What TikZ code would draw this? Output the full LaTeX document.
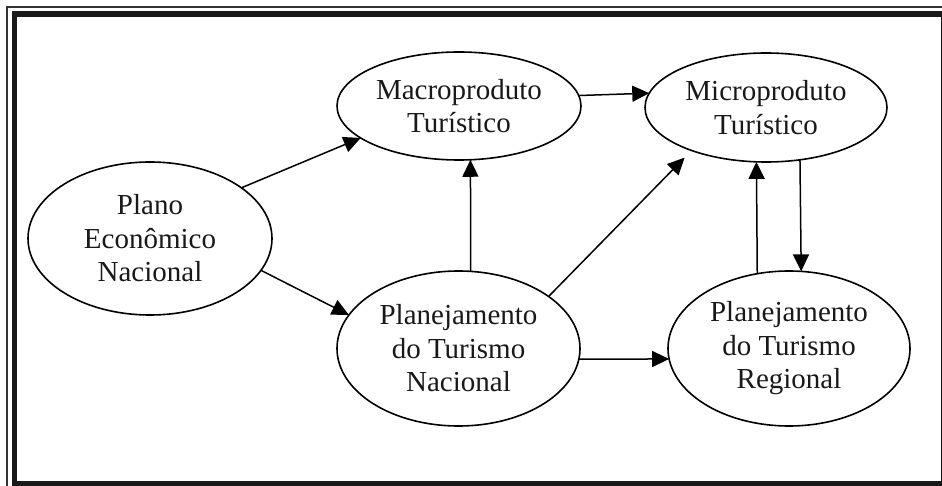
\documentclass[tikz,border=0pt]{standalone}
\usepackage{fontspec}
\setmainfont{Liberation Serif}
\usetikzlibrary{shapes.geometric,arrows.meta}
\begin{document}
\begin{tikzpicture}[x=1pt,y=-1pt,
  oval/.style={draw, ellipse, line width=1.6pt, inner sep=0pt, outer sep=0pt,
    align=center, font=\fontsize{29}{33.5}\selectfont, text=black!90},
  conn/.style={line width=1.5pt, -{Triangle[length=17pt,width=16pt]}}]
\useasboundingbox (0,0) rectangle (942,486);
\clip (0,0) rectangle (942,486);
\fill[white] (0,0) rectangle (942,486);
% frame
\draw[line width=1.4pt, black!80] (7,490) -- (7,7) -- (950,7);
\draw[line width=5.5pt, black!90] (14.5,14) rectangle (944,483.5);
% nodes
\node[oval, minimum width=244pt, minimum height=108pt] (macro) at (459,106) {Macroproduto\\Turístico};
\node[oval, minimum width=242pt, minimum height=109pt] (micro) at (766,107.5) {Microproduto\\Turístico};
\node[oval, minimum width=244pt, minimum height=153pt] (plano) at (150,238.5) {Plano\\Econômico\\Nacional};
\node[oval, minimum width=243pt, minimum height=155pt] (pnac) at (458.5,348.5) {Planejamento\\do Turismo\\Nacional};
\node[oval, minimum width=242pt, minimum height=155pt] (preg) at (789,348.5) {Planejamento\\do Turismo\\Regional};
% connectors
\draw[conn] (plano.29) -- (macro.198.6);
\draw[conn] (plano.-16) -- (pnac.163.7);
\draw[conn] (pnac.81.5) -- (macro.-78.4);
\draw[conn] (macro.5.3) -- (micro.173.7);
\draw[conn, shorten >=10pt] (pnac.30) -- (micro.-150.6);
\draw[conn] (preg.113.9) -- (micro.-100.4);
\draw[conn] (micro.-57) -- (preg.81.9);
\draw[conn] (pnac.-5) -- (preg.185);
\end{tikzpicture}
\end{document}
